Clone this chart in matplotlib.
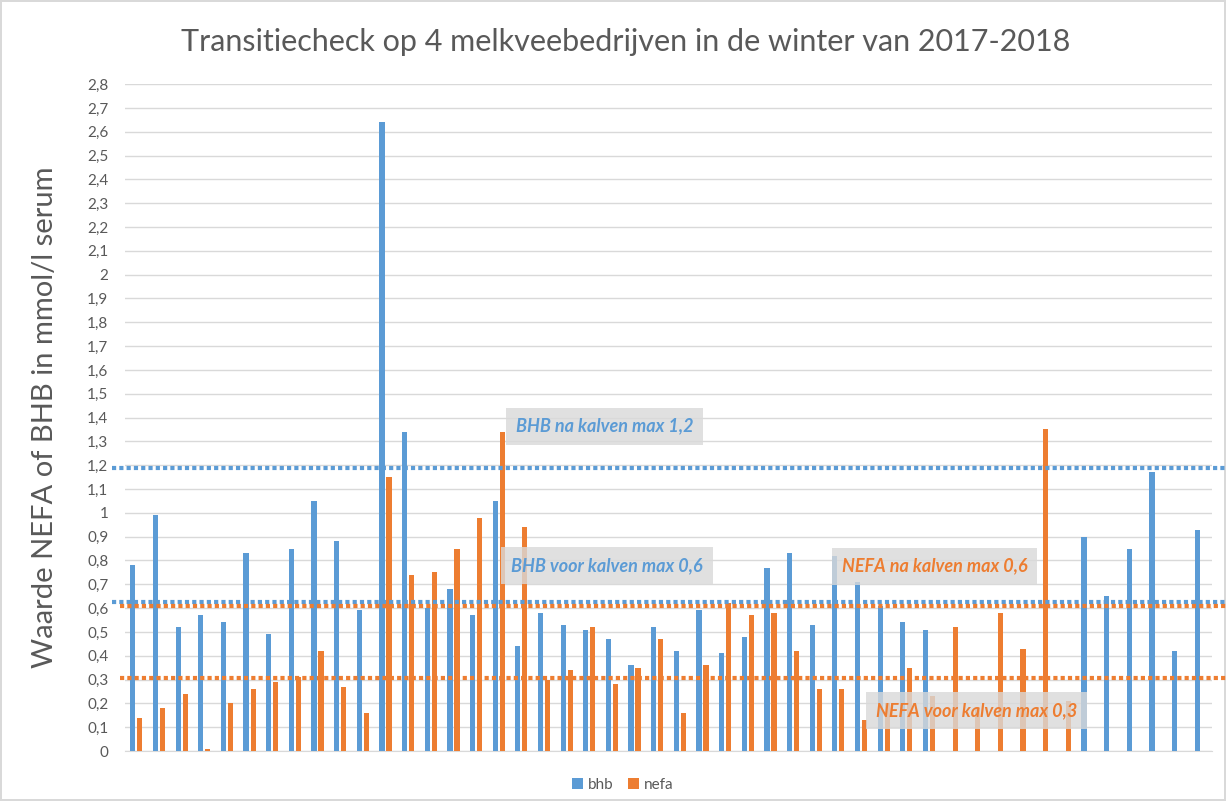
import matplotlib.pyplot as plt
import numpy as np

plt.rcParams["font.family"] = ["Lato", "DejaVu Sans"]

# values (mmol/l), 48 cows
bhb = [0.78, 0.99, 0.52, 0.57, 0.54, 0.83, 0.49, 0.85, 1.05, 0.88, 0.59, 2.64,
       1.34, 0.60, 0.68, 0.57, 1.05, 0.44, 0.58, 0.53, 0.51, 0.47, 0.36, 0.52,
       0.42, 0.59, 0.41, 0.48, 0.77, 0.83, 0.53, 0.82, 0.71, 0.61, 0.54, 0.51,
       np.nan, np.nan, np.nan, np.nan, np.nan, np.nan,
       0.90, 0.65, 0.85, 1.17, 0.42, 0.93]
nefa = [0.14, 0.18, 0.24, 0.01, 0.20, 0.26, 0.29, 0.31, 0.42, 0.27, 0.16, 1.15,
        0.74, 0.75, 0.85, 0.98, 1.34, 0.94, 0.30, 0.34, 0.52, 0.28, 0.35, 0.47,
        0.16, 0.36, 0.62, 0.57, 0.58, 0.42, 0.26, 0.26, 0.13, 0.20, 0.35, 0.23,
        0.52, 0.18, 0.58, 0.43, 1.35, 0.21,
        np.nan, np.nan, np.nan, np.nan, np.nan, np.nan]

# limits drawn as dotted lines
bhb_limits = [1.19, 0.625]
nefa_limits = [0.61, 0.305]
limit_labels = ["BHB na kalven max 1,2", "BHB voor kalven max 0,6",
                "NEFA na kalven max 0,6", "NEFA voor kalven max 0,3"]

yticks = np.round(np.arange(0, 2.81, 0.1), 1)
ytick_labels = [("%g" % v).replace(".", ",") for v in yticks]

BLUE = "#5B9BD5"
ORANGE = "#ED7D31"
GREY = "#595959"

fig = plt.figure(figsize=(12.26, 8.01), dpi=100)
fig.patch.set_edgecolor("#D9D9D9")
fig.patch.set_linewidth(1.5)
ax = fig.add_axes([0.102, 0.0624, 0.8866, 0.8326])

x = np.arange(len(bhb))
w = 0.23
ax.bar(x - 0.155, bhb, w, color=BLUE, label="bhb", zorder=3)
ax.bar(x + 0.155, nefa, w, color=ORANGE, label="nefa", zorder=3)

ax.set_xlim(-0.5, len(bhb) - 0.5)
ax.set_ylim(0, 2.8)
ax.set_yticks(yticks)
ax.set_yticklabels(ytick_labels, color=GREY, fontsize=11)
ax.set_xticks([])
ax.tick_params(axis="y", length=0, pad=12)
ax.grid(axis="y", color="#D9D9D9", linewidth=1, zorder=0)
for s in ["top", "right", "left"]:
    ax.spines[s].set_visible(False)
ax.spines["bottom"].set_color("#D9D9D9")

# dotted limit lines running a bit past the plot area
trans = ax.get_yaxis_transform()
for y in bhb_limits:
    ax.plot([-0.012, 1.02], [y, y], transform=trans, color=BLUE, lw=3,
            ls=(0, (1, 0.75)), clip_on=False, zorder=4)
for y in nefa_limits:
    ax.plot([-0.005, 1.02], [y, y], transform=trans, color=ORANGE, lw=3,
            ls=(0, (1, 0.75)), clip_on=False, zorder=4)

box = dict(boxstyle="square,pad=0.55", facecolor="#D9D9D9", edgecolor="none", alpha=0.8)
ax.text(16.75, 1.364, limit_labels[0], color=BLUE, fontsize=13, fontweight="bold",
        style="italic", va="center", bbox=box, zorder=5)
ax.text(16.55, 0.778, limit_labels[1], color=BLUE, fontsize=13, fontweight="bold",
        style="italic", va="center", bbox=box, zorder=5)
ax.text(31.15, 0.776, limit_labels[2], color=ORANGE, fontsize=13, fontweight="bold",
        style="italic", va="center", bbox=box, zorder=5)
ax.text(32.65, 0.171, limit_labels[3], color=ORANGE, fontsize=13, fontweight="bold",
        style="italic", va="center", bbox=box, zorder=5)

fig.text(0.51, 0.948, "Transitiecheck op 4 melkveebedrijven in de winter van 2017-2018",
         ha="center", va="center", fontsize=22, color=GREY)
fig.text(0.037, 0.479, "Waarde NEFA of BHB in mmol/l serum", rotation=90,
         ha="center", va="center", fontsize=21, color=GREY)

handles, labels = ax.get_legend_handles_labels()
leg = fig.legend(handles, labels, loc="center", bbox_to_anchor=(0.508, 0.02), ncol=2,
                 frameon=False, fontsize=11, handlelength=0.7, handleheight=0.7,
                 columnspacing=1.0, handletextpad=0.3)
for t in leg.get_texts():
    t.set_color(GREY)

fig.savefig("out.png", dpi=100)
